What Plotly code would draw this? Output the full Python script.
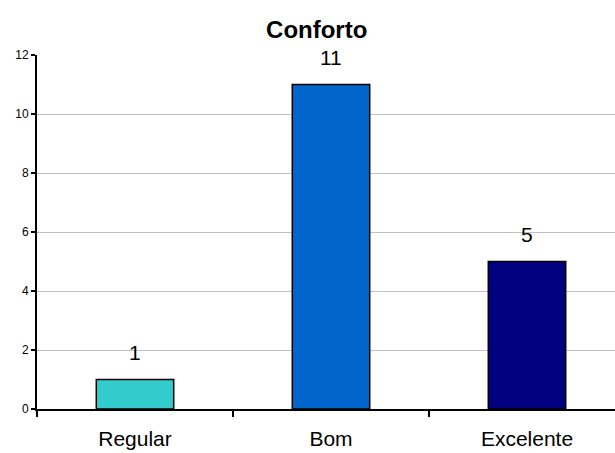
import plotly.graph_objects as go

categories = ["Regular", "Bom", "Excelente"]
values = [1, 11, 5]
colors = ["#33CCCC", "#0066CC", "#000080"]
y_ticks = [0, 2, 4, 6, 8, 10, 12]

fig = go.Figure(
    go.Bar(
        x=categories,
        y=values,
        marker=dict(color=colors, line=dict(color="black", width=1.5)),
        width=0.395,
        hoverinfo="skip",
    )
)

# value labels above each bar
for cat, val in zip(categories, values):
    fig.add_annotation(
        x=cat, y=val, text=str(val), showarrow=False,
        yanchor="bottom", yshift=14,
        font=dict(family="Arial, Liberation Sans", size=21, color="black"),
    )

fig.update_layout(
    width=615, height=453,
    margin=dict(l=37, r=0, t=55, b=44),
    paper_bgcolor="white", plot_bgcolor="white",
    showlegend=False,
    title=dict(
        text="<b>Conforto</b>", x=0.515, xanchor="center", y=0.935, yanchor="middle",
        font=dict(family="Arial, Liberation Sans", size=24, color="black"),
    ),
    font=dict(family="Arial, Liberation Sans", color="black"),
    xaxis=dict(
        type="category", range=[-0.5, 2.449],
        showline=True, linecolor="black", linewidth=2,
        ticks="outside", tickson="boundaries", ticklen=6, tickcolor="black", tickwidth=2,
        showgrid=False, tickfont=dict(size=21), ticklabelstandoff=10,
    ),
    yaxis=dict(
        range=[0, 12], tickvals=y_ticks,
        showline=True, linecolor="black", linewidth=2,
        ticks="outside", ticklen=4, tickcolor="black", tickwidth=1.5,
        showgrid=True, gridcolor="#C0C0C0", gridwidth=1.2,
        tickfont=dict(size=12), zeroline=False,
    ),
)

fig.write_html("out.html")
